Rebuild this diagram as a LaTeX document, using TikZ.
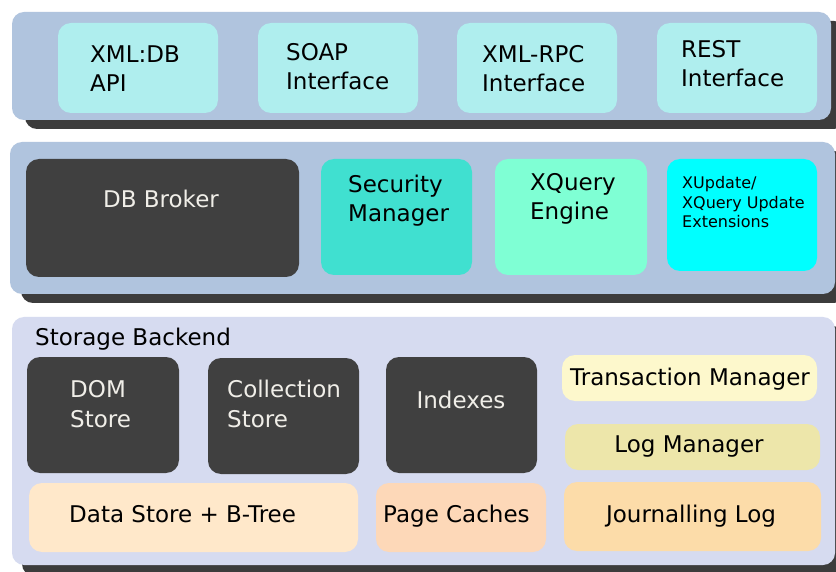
\documentclass[tikz,border=0pt]{standalone}
\usepackage{fontspec}
\setmainfont{DejaVu Sans}
\definecolor{panelblue}{HTML}{B0C4DE}
\definecolor{panellav}{HTML}{D6DBF0}
\definecolor{shadowgray}{HTML}{3C3C3C}
\definecolor{darkbox}{HTML}{404040}
\definecolor{lighttext}{HTML}{F0EEE8}
\definecolor{ifacecol}{HTML}{AFEEEE}
\definecolor{securitycol}{HTML}{40E0D0}
\definecolor{xquerycol}{HTML}{7FFFD4}
\definecolor{xupdatecol}{HTML}{00FFFF}
\definecolor{datastorecol}{HTML}{FFE8CA}
\definecolor{pagecachecol}{HTML}{FDD8B8}
\definecolor{txncol}{HTML}{FDF8CC}
\definecolor{logcol}{HTML}{EDE6AA}
\definecolor{journalcol}{HTML}{FCDCA9}
% multi-line labels are placed by the baseline of their last line
\tikzset{
  panel/.style={rounded corners=12pt},
  box/.style={rectangle, rounded corners=13pt, inner sep=0pt, draw=none},
  label/.style={inner sep=0pt, anchor=base west, align=left,
    font=\fontsize{23}{29.5}\selectfont, text=black},
  clabel/.style={label, anchor=base, align=center},
  smalllabel/.style={label, font=\fontsize{16}{19.5}\selectfont},
}
\begin{document}
\begin{tikzpicture}[x=1pt, y=-1pt]
\useasboundingbox (0,0) rectangle (836,572);
\clip (0,0) rectangle (836,572);
\fill[white] (0,0) rectangle (836,572);

% --- client interfaces layer ---
\fill[shadowgray, panel] (25,21) rectangle (846,129);
\fill[panelblue, panel] (12,12) rectangle (831,120);
\node[box, fill=ifacecol, minimum width=160pt, minimum height=90pt] (xmldb) at (138,68) {};
\node[box, fill=ifacecol, minimum width=160pt, minimum height=90pt] (soap) at (338,68) {};
\node[box, fill=ifacecol, minimum width=160pt, minimum height=90pt] (xmlrpc) at (537,68) {};
\node[box, fill=ifacecol, minimum width=160pt, minimum height=90pt] (rest) at (737,68) {};
\node[label] (xmldbtxt) at (90,92) {XML:DB\\API};
\node[label] (soaptxt) at (286,90) {SOAP\\Interface};
\node[label] (xmlrpctxt) at (482,92) {XML-RPC\\Interface};
\node[label] (resttxt) at (681,87) {REST\\Interface};

% --- core layer ---
\fill[shadowgray, panel] (21,151) rectangle (846,303);
\fill[panelblue, panel] (10,142) rectangle (835,294);
\node[box, fill=darkbox, minimum width=273pt, minimum height=118pt] (broker) at (162.5,218) {};
\node[box, fill=securitycol, minimum width=151pt, minimum height=116pt] (security) at (396.5,217) {};
\node[box, fill=xquerycol, minimum width=152pt, minimum height=116pt] (xquery) at (571,217) {};
\node[box, fill=xupdatecol, minimum width=150pt, minimum height=112pt] (xupdate) at (742,215) {};
\node[clabel, text=lighttext] (brokertxt) at (161,208) {DB Broker};
\node[label] (securitytxt) at (348,222) {Security\\Manager};
\node[label] (xquerytxt) at (530,220) {XQuery\\Engine};
\node[smalllabel] (xupdatetxt) at (682,228) {XUpdate/\\XQuery Update\\Extensions};

% --- storage backend layer ---
\fill[shadowgray, panel] (22,326) rectangle (845,576);
\fill[panellav, panel] (12,317) rectangle (835,565);
\node[label] (storagetxt) at (35,345) {Storage Backend};
\node[box, fill=darkbox, minimum width=152pt, minimum height=116pt] (dom) at (103,415) {};
\node[box, fill=darkbox, minimum width=151pt, minimum height=116pt] (coll) at (283.5,416) {};
\node[box, fill=darkbox, minimum width=151pt, minimum height=116pt] (idx) at (461.5,415) {};
\node[box, fill=datastorecol, minimum width=329pt, minimum height=69pt] (datastore) at (193.5,517.5) {};
\node[box, fill=pagecachecol, minimum width=170pt, minimum height=69pt] (pagecache) at (461,517.5) {};
\node[box, fill=txncol, minimum width=255pt, minimum height=46pt] (txn) at (689.5,378) {};
\node[box, fill=logcol, minimum width=255pt, minimum height=46pt] (logm) at (692.5,447) {};
\node[box, fill=journalcol, minimum width=257pt, minimum height=69pt] (journal) at (692.5,516.5) {};
\node[label, text=lighttext] (domtxt) at (70,427) {DOM\\Store};
\node[label, text=lighttext] (colltxt) at (227,427) {Collection\\Store};
\node[clabel, text=lighttext] (idxtxt) at (461,408) {Indexes};
\node[label] (datastoretxt) at (69,522) {Data Store + B-Tree};
\node[label] (pagecachetxt) at (383,522) {Page Caches};
\node[clabel] (txntxt) at (690,385) {Transaction Manager};
\node[clabel] (logmtxt) at (689,452) {Log Manager};
\node[clabel] (journaltxt) at (691,522) {Journalling Log};
\end{tikzpicture}
\end{document}
